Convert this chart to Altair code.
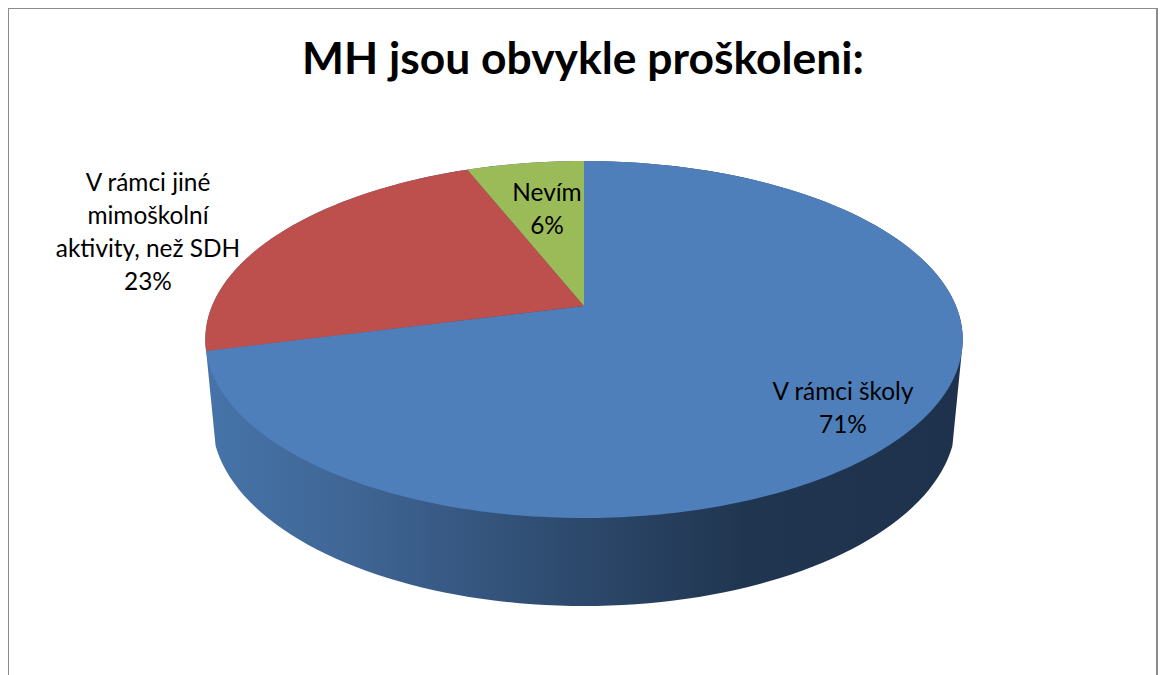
import math
import altair as alt
import pandas as pd

# --- chart values
TITLE = "MH jsou obvykle proškoleni:"
categories = ["V rámci školy", "V rámci jiné\nmimoškolní\naktivity, než SDH", "Nevím"]
shares = [71, 23, 6]
colors = ["#4e7fbb", "#bd4f4c", "#9bbb59"]
label_x = [843, 148, 547]
label_y = [381, 172, 182]

# perspective disc geometry (page pixels)
CX, APEX_Y, R, K, A = 584, 306, 372, 0.1877, -114.8
LOW_CY, LOW_RX, LOW_RY = 420, 372, 186
FRAME = "#8c8c8c"


def rim(theta_deg):
    t = math.radians(theta_deg)
    u, v = math.sin(t), math.cos(t)
    d = 1 + K * v
    return CX + R * u / d, (APEX_Y + A * v) / d


def slice_points(start, end):
    n = max(2, int(abs(end - start)))
    pts = [(CX, APEX_Y)]
    pts += [rim(start + (end - start) * i / n) for i in range(n + 1)]
    return pd.DataFrame([{"x": p[0], "y": p[1], "i": i} for i, p in enumerate(pts)])


def wall_points():
    pts = []
    # visible lower rim, left to right along the bottom
    for deg in range(-82, 83, 2):
        t = math.radians(deg)
        pts.append((CX + LOW_RX * math.sin(t), LOW_CY + LOW_RY * math.cos(t)))
    # upper rim back over the top, right to left
    for deg in range(105, -106, -2):
        pts.append(rim(deg))
    return pd.DataFrame([{"x": p[0], "y": p[1], "i": i} for i, p in enumerate(pts)])


x_scale = alt.Scale(domain=[8, 1158], nice=False, zero=False)
y_scale = alt.Scale(domain=[675, 8], nice=False, zero=False)
x_enc = alt.X("x:Q", scale=x_scale, axis=None)
y_enc = alt.Y("y:Q", scale=y_scale, axis=None)

wall_fill = alt.Gradient(
    gradient="linear", x1=0, x2=1, y1=0, y2=0,
    stops=[
        alt.GradientStop(offset=0.0, color="#4674a9"),
        alt.GradientStop(offset=0.2, color="#3f6594"),
        alt.GradientStop(offset=0.5, color="#2c486b"),
        alt.GradientStop(offset=0.72, color="#20354f"),
        alt.GradientStop(offset=1.0, color="#1f324d"),
    ],
)

frame_v = pd.DataFrame({"x": [8, 1157], "top": [8, 8], "bottom": [675, 675]})
frame_h = pd.DataFrame({"left": [8], "right": [1157], "y": [8]})

layers = [
    alt.Chart(frame_v).mark_rule(color=FRAME, strokeWidth=2).encode(
        x=x_enc, y=alt.Y("top:Q", scale=y_scale, axis=None), y2="bottom:Q"
    ),
    alt.Chart(frame_h).mark_rule(color=FRAME, strokeWidth=2).encode(
        x=alt.X("left:Q", scale=x_scale, axis=None), x2="right:Q", y=y_enc
    ),
    alt.Chart(wall_points()).mark_line(
        fill=wall_fill, stroke="transparent", strokeWidth=0, interpolate="linear-closed"
    ).encode(x=x_enc, y=y_enc, order="i:Q"),
]

cum = 0.0
for share, col in zip(shares, colors):
    start = cum / sum(shares) * 360
    cum += share
    end = cum / sum(shares) * 360
    layers.append(
        alt.Chart(slice_points(start, end)).mark_line(
            fill=col, stroke="transparent", strokeWidth=0, interpolate="linear-closed"
        ).encode(x=x_enc, y=y_enc, order="i:Q")
    )

labels = pd.DataFrame({
    "text": [f"{c}\n{s}%" for c, s in zip(categories, shares)],
    "x": label_x,
    "y": label_y,
})
layers.append(
    alt.Chart(labels).mark_text(
        font="Lato", fontSize=24.4, color="#000000", align="center",
        baseline="top", lineBreak="\n", lineHeight=33,
    ).encode(x=x_enc, y=y_enc, text="text:N")
)

chart = alt.layer(*layers).properties(
    width=1150,
    height=667,
    padding=0,
    autosize=alt.AutoSizeParams(type="none"),
    title=alt.TitleParams(
        TITLE, font="Lato", fontSize=44.4, fontWeight="bold", color="#000000",
        anchor="middle", offset=-76,
    ),
).configure_view(stroke=None).configure(background="white")

chart.save("out.html", embed_options={"renderer": "svg", "actions": False})
